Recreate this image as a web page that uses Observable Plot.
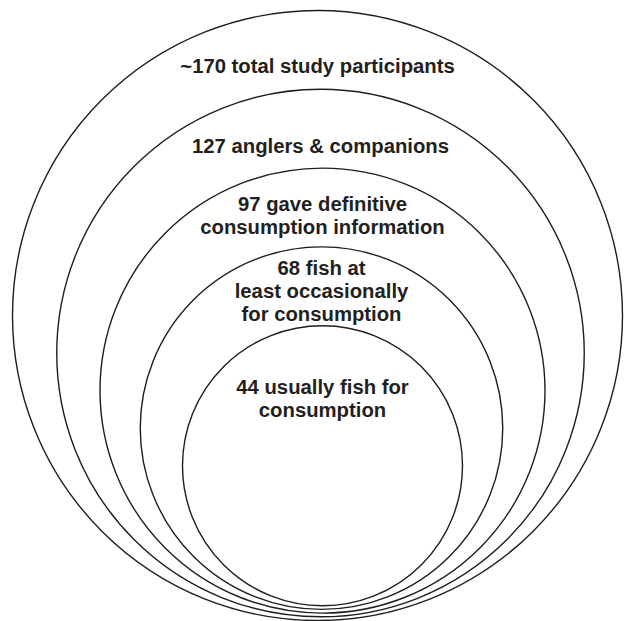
<!DOCTYPE html>
<html>
<head>
<meta charset="utf-8">
<script src="https://cdn.jsdelivr.net/npm/d3@7"></script>
<script src="https://cdn.jsdelivr.net/npm/@observablehq/plot@0.6"></script>
<style>
  html, body { margin: 0; padding: 0; background: #fff; }
  #chart svg { display: block; }
</style>
</head>
<body>
<div id="chart"></div>
<script>
// ---- data ----
const labels = [
  "~170 total study participants",
  "127 anglers & companions",
  "97 gave definitive\nconsumption information",
  "68 fish at\nleast occasionally\nfor consumption",
  "44 usually fish for\nconsumption"
];
const counts = [170, 127, 97, 68, 44];
const levels = [0, 1, 2, 3, 4]; // nesting level (outermost = 0)

// ---- layout ----
const W = 626, H = 621;
const rScaleOpts = {type: "linear", domain: [0, 4], range: [305, 140]};
const rScale = Plot.scale({r: rScaleOpts});
const centerX = [317, 320, 322, 321, 322];
const bottomBase = 620, bottomStep = 3.7;
const lastBaseline = [72, 152, 233, 320, 416];

const rings = levels.map((lv, i) => {
  const r = rScale.apply(lv);
  return {
    level: lv,
    count: counts[i],
    label: labels[i],
    cx: centerX[i],
    cy: bottomBase - i * bottomStep - r,
    ly: lastBaseline[i]
  };
});

const chart = Plot.plot({
  width: W,
  height: H,
  margin: 0,
  x: {domain: [0, W], range: [0, W], axis: null},
  y: {domain: [0, H], range: [0, H], axis: null},
  r: rScaleOpts,
  style: {background: "#fff"},
  marks: [
    Plot.dot(rings, {x: "cx", y: "cy", r: "level", fill: "none", stroke: "#1e1e1e", strokeWidth: 1.4}),
    Plot.text(rings, {
      x: "cx", y: "ly", text: "label",
      lineAnchor: "bottom", lineHeight: 1.12,
      fontSize: 20.3, fontWeight: "bold",
      fontFamily: "'Liberation Sans', Arial, Helvetica, sans-serif",
      fill: "#231f20"
    })
  ]
});
document.getElementById("chart").append(chart);
</script>
</body>
</html>
